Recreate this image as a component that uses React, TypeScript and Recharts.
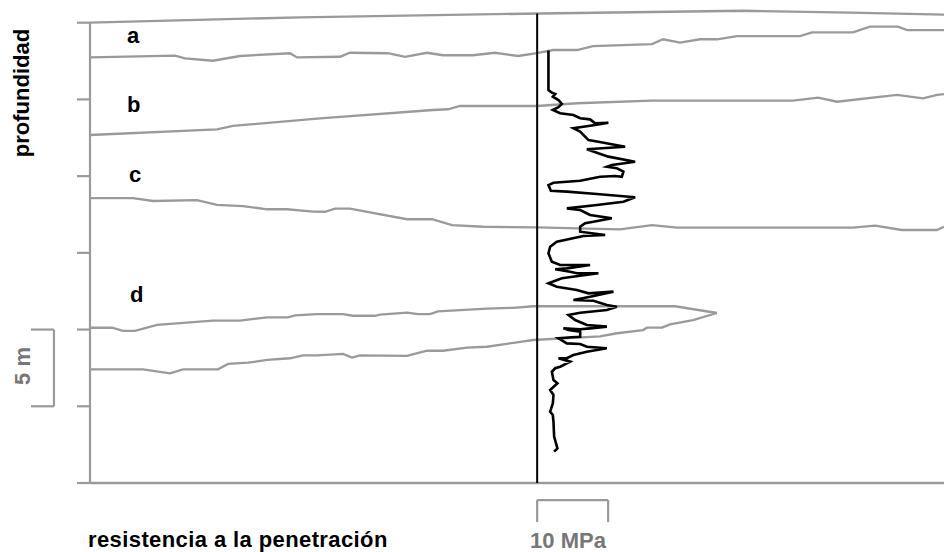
import { LineChart, Line, XAxis, YAxis, ReferenceLine } from 'recharts'

// depth ticks, metres
const depthTicks = [0, 5, 10, 15, 20, 25, 30]

// layer boundaries: [horizontal distance (% of section), depth (m)]
const surface: [number, number][] = [
  [0, 0], [24.6, -0.35], [52.7, -0.6], [76.5, -0.78], [89, -0.66], [100, -0.52],
]
const baseA: [number, number][] = [
  [0, 2.26], [9.95, 2.15], [11.12, 2.32], [14.4, 2.48], [17.56, 2.17], [23.42, 1.99],
  [24.24, 2.26], [29.27, 2.22], [30.44, 1.96], [34.89, 1.99], [36.89, 2.22], [39.46, 1.96],
  [41.33, 2.12], [44.85, 2.12], [47.42, 1.96], [50.12, 2.17], [52.34, 1.99], [54.22, 1.78],
  [57.03, 1.78], [58.9, 1.52], [65.81, 1.39], [67.1, 1.08], [69.09, 1.3], [71.43, 1.08],
  [73.42, 1.08], [75.76, 0.87], [83.14, 0.87], [84.54, 0.63], [89.34, 0.63], [91.33, 0.26],
  [94.61, 0.26], [95.67, 0.48], [100, 0.48],
]
const baseB: [number, number][] = [
  [0, 7.32], [14.87, 6.95], [16.74, 6.73], [26.93, 6.24], [40.16, 5.69], [41.92, 5.64],
  [43.33, 5.43], [52.34, 5.43], [57.03, 5.25], [65.81, 5.08], [82.32, 5.08], [85.25, 4.89],
  [87.47, 5.15], [94.5, 4.71], [97.54, 4.93], [99.18, 4.71], [100, 4.65],
]
const baseC: [number, number][] = [
  [0, 11.43], [5.04, 11.43], [7.38, 11.62], [12.53, 11.56], [14.87, 11.88], [17.92, 11.95],
  [20.73, 12.16], [23.07, 12.16], [26.11, 12.31], [27.52, 12.32], [28.69, 12.12], [30.44, 12.12],
  [37.12, 12.81], [40.05, 12.81], [42.39, 13.19], [46.02, 13.3], [52.34, 13.34], [62.06, 13.47],
  [65.81, 13.19], [68.74, 13.36], [89.34, 13.36], [91.92, 13.23], [95.08, 13.51], [99.18, 13.51],
  [100, 13.3],
]
const lensTop: [number, number][] = [
  [0, 19.88], [2.58, 19.88], [3.86, 20.09], [5.27, 20.09], [7.85, 19.7], [14.4, 19.42],
  [17.56, 19.42], [20.73, 19.2], [23.19, 19.2], [24, 19.07], [26.58, 18.99], [29.63, 18.99],
  [30.8, 19.1], [33.37, 19.1], [33.96, 19.03], [37.12, 18.9], [38.41, 18.99], [39.81, 18.99],
  [40.75, 18.81], [43.33, 18.73], [46.49, 18.64], [49.53, 18.58], [51.87, 18.48], [68.5, 18.48],
  [73.42, 18.92],
]
const lensBottom: [number, number][] = [
  [0, 22.59], [6.21, 22.59], [9.37, 22.85], [10.89, 22.59], [14.99, 22.59], [16.16, 22.24],
  [18.5, 22.16], [20.73, 21.98], [23.42, 21.87], [24.94, 21.68], [26.58, 21.68], [29.63, 21.59],
  [30.68, 21.83], [31.62, 21.68], [37.12, 21.72], [39.46, 21.38], [41.33, 21.38], [44.15, 21.18],
  [46.49, 21.12], [50, 20.83], [51.87, 20.68], [59.72, 20.45], [61.71, 20.24], [64.75, 20.03],
  [65.22, 19.88], [66.98, 19.87], [67.92, 19.66], [70.61, 19.38], [73.42, 18.92],
]

// penetration resistance log: [MPa, depth (m)]
const resistance: [number, number][] = [
  [1.59, 1.82], [1.59, 4.39], [2.07, 4.56], [2.54, 4.65], [2.21, 4.82], [3.0, 5.04],
  [3.48, 5.3], [3.0, 5.51], [2.21, 5.69], [3.24, 5.9], [5.11, 6.02], [6.06, 6.23],
  [7.46, 6.3], [8.17, 6.56], [10.04, 6.52], [8.17, 6.67], [5.11, 6.88], [6.06, 7.1],
  [7.23, 7.65], [8.63, 7.76], [12.39, 8.08], [7.0, 8.25], [8.41, 8.47], [10.04, 8.73],
  [13.8, 9.06], [10.52, 9.27], [9.82, 9.39], [11.23, 9.49], [12.15, 9.71], [11.93, 10.04],
  [10.99, 9.99], [8.87, 10.04], [6.06, 10.3], [2.3, 10.43], [1.59, 10.58], [1.93, 10.95],
  [4.18, 11.01], [8.41, 11.16], [13.8, 11.38], [12.15, 11.67], [8.41, 11.88], [4.18, 12.1],
  [6.06, 12.21], [7.46, 12.53], [10.52, 12.75], [7.93, 12.97], [6.76, 13.07], [6.06, 13.3],
  [6.06, 13.62], [9.58, 13.84], [6.52, 13.9], [2.77, 14.27], [1.83, 14.6], [1.59, 15.03],
  [2.07, 15.58], [3.24, 15.79], [7.46, 15.79], [4.18, 16.01], [2.54, 16.07], [4.65, 16.23],
  [5.59, 16.33], [8.63, 16.33], [3.48, 16.66], [1.59, 16.98], [2.77, 17.21], [5.59, 17.42],
  [7.23, 17.64], [10.75, 17.53], [7.46, 17.86], [5.11, 18.07], [7.93, 18.12], [9.82, 18.4],
  [11.23, 18.51], [9.82, 18.73], [6.06, 18.9], [4.41, 19.05], [5.35, 19.38], [7.0, 19.7],
  [9.82, 19.81], [7.46, 19.92], [6.06, 19.98], [3.7, 19.92], [4.41, 20.03], [6.06, 20.14],
  [6.06, 20.47], [4.89, 20.5], [3.0, 20.57], [4.18, 20.9], [6.06, 20.94], [7.0, 21.12],
  [9.82, 21.22], [7.0, 21.44], [5.11, 21.66], [4.18, 21.87], [3.0, 21.87], [4.65, 22.09],
  [3.24, 22.42], [2.54, 22.52], [2.07, 22.75], [2.3, 23.29], [2.86, 23.5], [1.83, 23.94],
  [2.3, 24.26], [2.21, 24.81], [1.83, 25.35], [2.21, 25.57], [2.3, 26.01], [2.39, 26.98],
  [2.86, 27.74], [2.39, 27.96],
]

const layerNames = ['a', 'b', 'c', 'd']

const GRAY = '#9a9a9a'
const FONT = '"Liberation Sans", Arial, Helvetica, sans-serif'

const toDist = (rows: [number, number][]) => rows.map(([d, depth]) => ({ d, depth }))
const toMpa = (rows: [number, number][]) => rows.map(([mpa, depth]) => ({ mpa, depth }))

const boundaries = [surface, baseA, baseB, baseC, lensTop, lensBottom]

export default function App() {
  const txt = { fontFamily: FONT, fontSize: 22, fontWeight: 700 }
  return (
    <div style={{ position: 'absolute', left: 0, top: 0 }}>
      <LineChart width={944} height={552} margin={{ top: 8, right: 0, bottom: 69, left: 70 }}>
        <XAxis xAxisId="dist" type="number" dataKey="d" domain={[0, 100]} hide allowDataOverflow />
        <XAxis xAxisId="mpa" type="number" dataKey="mpa" domain={[-63, 57.32]} hide allowDataOverflow />
        <YAxis
          type="number"
          domain={[-0.958, 30]}
          reversed
          ticks={depthTicks}
          tickFormatter={() => ''}
          tickSize={13}
          axisLine={false}
          tickLine={{ stroke: GRAY, strokeWidth: 2.2 }}
          width={20}
          allowDataOverflow
        />

        <ReferenceLine xAxisId="dist" segment={[{ x: 0, y: 0 }, { x: 0, y: 30 }]} stroke={GRAY} strokeWidth={2.2} ifOverflow="visible" />
        <ReferenceLine xAxisId="dist" y={30} stroke={GRAY} strokeWidth={2.4} ifOverflow="visible" />

        {/* 5 m scale bar */}
        <ReferenceLine xAxisId="dist" segment={[{ x: -6.91, y: 20 }, { x: -4.22, y: 20 }]} stroke={GRAY} strokeWidth={2.2} ifOverflow="visible" />
        <ReferenceLine xAxisId="dist" segment={[{ x: -4.22, y: 20 }, { x: -4.22, y: 25 }]} stroke={GRAY} strokeWidth={2.2} ifOverflow="visible" />
        <ReferenceLine xAxisId="dist" segment={[{ x: -6.91, y: 25 }, { x: -4.22, y: 25 }]} stroke={GRAY} strokeWidth={2.2} ifOverflow="visible" />

        {/* 10 MPa scale bar */}
        <ReferenceLine xAxisId="mpa" segment={[{ x: 0, y: 31.11 }, { x: 10, y: 31.11 }]} stroke={GRAY} strokeWidth={2.2} ifOverflow="visible" />
        <ReferenceLine xAxisId="mpa" segment={[{ x: 0, y: 31.11 }, { x: 0, y: 32.54 }]} stroke={GRAY} strokeWidth={2.2} ifOverflow="visible" />
        <ReferenceLine xAxisId="mpa" segment={[{ x: 10, y: 31.11 }, { x: 10, y: 32.54 }]} stroke={GRAY} strokeWidth={2.2} ifOverflow="visible" />

        {boundaries.map((b, i) => (
          <Line
            key={i}
            data={toDist(b)}
            xAxisId="dist"
            dataKey="depth"
            type="linear"
            stroke={GRAY}
            strokeWidth={2.3}
            dot={false}
            activeDot={false}
            isAnimationActive={false}
          />
        ))}

        <ReferenceLine xAxisId="mpa" segment={[{ x: 0, y: -0.6 }, { x: 0, y: 30 }]} stroke="#000" strokeWidth={2} ifOverflow="visible" />

        <Line
          data={toMpa(resistance)}
          xAxisId="mpa"
          dataKey="depth"
          type="linear"
          stroke="#000"
          strokeWidth={2.6}
          strokeLinejoin="miter"
          dot={false}
          activeDot={false}
          isAnimationActive={false}
        />

        <text {...txt} x={29} y={93} textAnchor="middle" transform="rotate(-90 29 93)" fill="#000">profundidad</text>
        <text {...txt} x={30} y={366} textAnchor="middle" transform="rotate(-90 30 366)" fill="#777">5 m</text>
        <text {...txt} x={127} y={43} fill="#000">{layerNames[0]}</text>
        <text {...txt} x={127} y={112} fill="#000">{layerNames[1]}</text>
        <text {...txt} x={129} y={182} fill="#000">{layerNames[2]}</text>
        <text {...txt} x={130} y={302} fill="#000">{layerNames[3]}</text>
        <text {...txt} x={88} y={547} letterSpacing={0.4} fill="#000">resistencia a la penetración</text>
        <text {...txt} x={568} y={548} textAnchor="middle" fill="#777">10 MPa</text>
      </LineChart>
    </div>
  )
}
